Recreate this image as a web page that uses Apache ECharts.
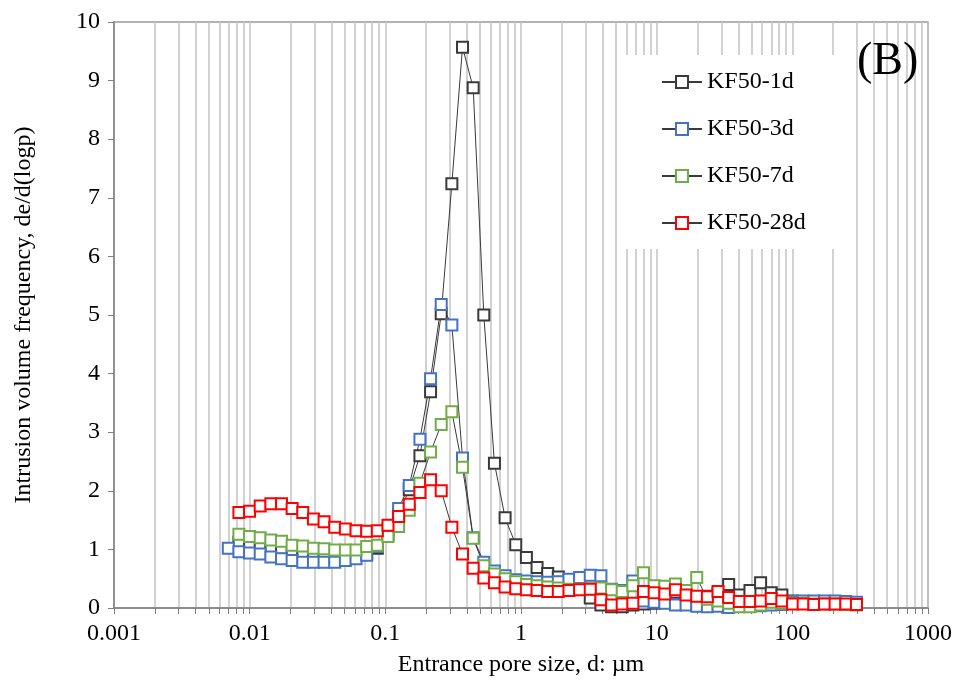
<!DOCTYPE html>
<html>
<head>
<meta charset="utf-8">
<title>KF50 pore size distribution</title>
<script src="https://cdn.jsdelivr.net/npm/echarts@6/dist/echarts.min.js"></script>
<style>
  html, body { margin: 0; padding: 0; background: #fff; }
  #chart { width: 957px; height: 687px; }
</style>
</head>
<body>
<div id="chart"></div>
<script>
// entrance pore size d (um), same steps for every curve
var poreSize = [0.00696, 0.00833, 0.00998, 0.01196, 0.01433, 0.01717, 0.02056, 0.02463, 0.02952, 0.03536,
  0.04237, 0.05076, 0.06082, 0.07287, 0.0873, 0.1046, 0.1253, 0.1501, 0.1799, 0.2155,
  0.2582, 0.3093, 0.3706, 0.444, 0.5319, 0.6372, 0.7634, 0.9146, 1.096, 1.313,
  1.573, 1.884, 2.258, 2.704, 3.24, 3.882, 4.651, 5.572, 6.675, 7.998,
  9.581, 11.48, 13.75, 16.48, 19.74, 23.65, 28.33, 33.94, 40.67, 48.72,
  58.37, 69.93, 83.78, 100.4, 120.2, 144, 172.6, 206.8, 247.7, 296.8];

// de/d(logp), null = no point
var kf1d = [null, 1.12, 1.10, 1.08, 1.05, 1.02, 0.98, 0.95, 0.92, 0.90,
  0.89, 0.89, 0.90, 0.93, 1.02, 1.25, 1.60, 2.02, 2.60, 3.69,
  5.02, 7.24, 9.57, 8.88, 5.00, 2.47, 1.54, 1.08, 0.86, 0.69,
  0.59, 0.53, 0.47, 0.40, 0.17, 0.05, 0.02, 0.02, 0.05, 0.07,
  0.08, 0.10, 0.08, 0.10, 0.15, 0.20, 0.25, 0.40, 0.22, 0.30,
  0.43, 0.26, 0.22, 0.12, 0.11, 0.10, 0.10, 0.10, 0.09, 0.08];
var kf3d = [1.02, 0.96, 0.94, 0.92, 0.87, 0.84, 0.81, 0.78, 0.78, 0.78,
  0.78, 0.81, 0.84, 0.90, 1.05, 1.35, 1.70, 2.09, 2.88, 3.91,
  5.18, 4.83, 2.56, 1.20, 0.78, 0.63, 0.55, 0.48, 0.46, 0.45,
  0.44, 0.45, 0.49, 0.52, 0.56, 0.55, 0.32, 0.30, 0.46, 0.12,
  0.10, 0.08, 0.05, 0.05, 0.03, 0.02, 0.03, 0.01, 0.03, 0.03,
  0.04, 0.05, 0.06, 0.11, 0.12, 0.12, 0.12, 0.12, 0.11, 0.10];
var kf7d = [null, 1.26, 1.22, 1.20, 1.16, 1.14, 1.07, 1.06, 1.02, 1.01,
  0.99, 0.99, 0.99, 1.05, 1.07, 1.22, 1.39, 1.67, 2.13, 2.66,
  3.13, 3.35, 2.40, 1.19, 0.72, 0.58, 0.50, 0.45, 0.40, 0.38,
  0.36, 0.34, 0.32, 0.32, 0.33, 0.34, 0.31, 0.28, 0.38, 0.60,
  0.38, 0.37, 0.41, 0.30, 0.52, 0.15, 0.12, 0.08, 0.02, 0.02,
  0.05, 0.10, 0.08, 0.08, 0.08, 0.07, 0.07, 0.07, 0.06, 0.05];
var kf28d = [null, 1.63, 1.65, 1.74, 1.78, 1.78, 1.70, 1.63, 1.52, 1.47,
  1.38, 1.35, 1.32, 1.31, 1.32, 1.41, 1.56, 1.77, 1.97, 2.19,
  2.00, 1.38, 0.92, 0.68, 0.51, 0.43, 0.36, 0.33, 0.31, 0.30,
  0.28, 0.28, 0.30, 0.31, 0.32, 0.14, 0.05, 0.07, 0.08, 0.28,
  0.26, 0.24, 0.31, 0.22, 0.20, 0.19, 0.28, 0.18, 0.11, 0.11,
  0.12, 0.16, 0.12, 0.07, 0.07, 0.06, 0.07, 0.07, 0.07, 0.06];

var seriesNames = ['KF50-1d', 'KF50-3d', 'KF50-7d', 'KF50-28d'];
var markerColors = ['#3a3a3a', '#4472c4', '#70ad47', '#ff0000'];

// tick labels and log grid lines
var decadeTicks = [0.001, 0.01, 0.1, 1, 10, 100, 1000];
var gridTicks = [0.001, 0.002, 0.003, 0.004, 0.005, 0.006, 0.007, 0.008, 0.009,
  0.01, 0.02, 0.03, 0.04, 0.05, 0.06, 0.07, 0.08, 0.09,
  0.1, 0.2, 0.3, 0.4, 0.5, 0.6, 0.7, 0.8, 0.9,
  1, 2, 3, 4, 5, 6, 7, 8, 9,
  10, 20, 30, 40, 50, 60, 70, 80, 90,
  100, 200, 300, 400, 500, 600, 700, 800, 900, 1000];

var serif = 'Liberation Serif';

function toPairs(vals) {
  var out = [];
  vals.forEach(function (v, i) {
    if (v !== null) out.push([poreSize[i], v]);
  });
  return out;
}

function fmtDecade(v) {
  if (v < 1) return v.toFixed(Math.round(-Math.log10(v)));
  return String(Math.round(v));
}

var allData = [kf1d, kf3d, kf7d, kf28d];
var series = allData.map(function (vals, k) {
  return {
    name: seriesNames[k],
    type: 'line',
    data: toPairs(vals),
    symbol: 'emptyRect',
    symbolSize: 11,
    showSymbol: true,
    lineStyle: { color: '#3a3a3a', width: 1 },
    itemStyle: { color: markerColors[k], borderWidth: 1.5 }
  };
});

var chart = echarts.init(document.getElementById('chart'));
chart.setOption({
  animation: false,
  backgroundColor: '#fff',
  title: {
    text: '(B)',
    left: 852,
    top: 34,
    textStyle: { fontFamily: serif, fontSize: 46, fontWeight: 'normal', color: '#000' }
  },
  legend: {
    orient: 'vertical',
    left: 622,
    top: 55,
    padding: [15, 42, 14, 39],
    backgroundColor: '#fff',
    itemWidth: 40,
    itemHeight: 15,
    itemGap: 23,
    data: seriesNames,
    textStyle: { fontFamily: serif, fontSize: 24, color: '#000' }
  },
  grid: {
    left: 114,
    right: 29,
    top: 22,
    bottom: 79,
    show: true,
    borderColor: '#999',
    borderWidth: 1.5
  },
  xAxis: {
    type: 'log',
    logBase: 10,
    min: 0.001,
    max: 1000,
    name: 'Entrance pore size, d: µm',
    nameLocation: 'middle',
    nameGap: 45,
    nameTextStyle: { fontFamily: serif, fontSize: 24, color: '#000' },
    axisLine: { show: true, onZero: false, lineStyle: { color: '#808080', width: 1.5 } },
    axisTick: { show: true, inside: false, length: 6, customValues: gridTicks, lineStyle: { color: '#808080' } },
    axisLabel: {
      customValues: decadeTicks,
      formatter: fmtDecade,
      margin: 14,
      fontFamily: serif,
      fontSize: 24,
      color: '#000'
    },
    splitLine: { show: true, lineStyle: { color: '#c3c3c3', width: 1.5 } }
  },
  yAxis: {
    type: 'value',
    min: 0,
    max: 10,
    interval: 1,
    name: 'Intrusion volume frequency, de/d(logp)',
    nameLocation: 'middle',
    nameGap: 78,
    nameTextStyle: { fontFamily: serif, fontSize: 24, color: '#000' },
    axisLine: { show: true, lineStyle: { color: '#808080', width: 1.5 } },
    axisTick: { show: true, inside: false, length: 6, lineStyle: { color: '#808080' } },
    axisLabel: { margin: 14, fontFamily: serif, fontSize: 24, color: '#000' },
    splitLine: { show: false }
  },
  series: series
});
</script>
</body>
</html>
